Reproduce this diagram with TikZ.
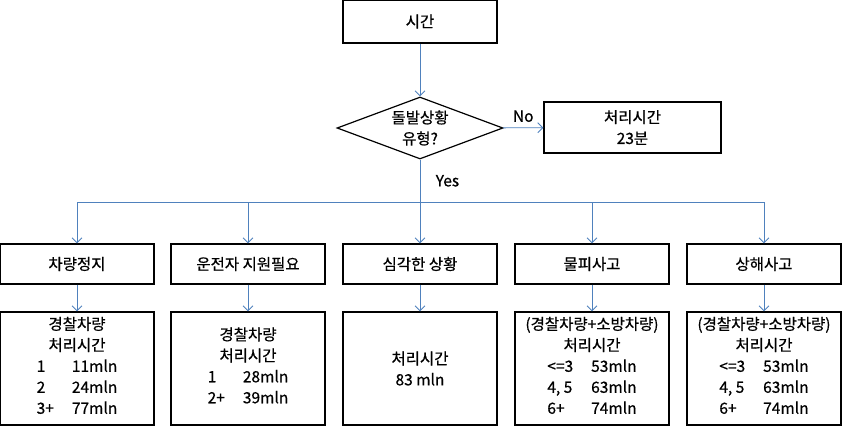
\documentclass[tikz,border=0pt]{standalone}
\usepackage{fontspec}
\setmainfont{Noto Sans CJK KR}[FakeBold=0.6]
\usetikzlibrary{shapes.geometric,arrows.meta}
\definecolor{linkblue}{RGB}{79,129,189}
\newcommand{\timerows}[1]{\begin{tabular}[t]{@{}l@{\hspace{18pt}}l@{}}#1\end{tabular}}

\begin{document}
\begin{tikzpicture}[x=1pt,y=-1pt,font=\fontsize{15.5}{21}\selectfont,
		box/.style={draw,line width=1.2pt,minimum width=154pt,align=center,inner sep=0pt},
		head/.style={box,minimum height=40pt},
		result/.style={box,minimum height=113pt},
		decision/.style={draw,line width=1.2pt,diamond,aspect=2.68,minimum width=166pt,minimum height=62pt,inner sep=0pt},
		link/.style={draw=linkblue,line width=0.9pt},
		arr/.style={link,-{Straight Barb[length=5pt,width=10pt]}}]
	\useasboundingbox (0,0) rectangle (847,431);
	\node[box,minimum height=43pt] (start) at (420,21.5) {시간};
	\node[decision,label={[align=center]center:돌발상황\\유형?}] (type) at (420,128) {};
	\node[box,minimum width=177pt,minimum height=51pt] (none) at (632.5,127.5) {처리시간\\23분};
	\coordinate (bus) at (420,202);
	\node[head] (c1) at (77,264) {차량정지};
	\node[head] (c2) at (248,264) {운전자 지원필요};
	\node[head] (c3) at (420,264) {심각한 상황};
	\node[head] (c4) at (592,264) {물피사고};
	\node[head] (c5) at (764,264) {상해사고};
	\node[result] (d1) at (77,368.5) {경찰차량\\처리시간\\\timerows{1&11mln\\2&24mln\\3+&77mln}};
	\node[result] (d2) at (248,368.5) {경찰차량\\처리시간\\\timerows{1&28mln\\2+&39mln}};
	\node[result] (d3) at (420,368.5) {처리시간\\83 mln};
	\node[result] (d4) at (592,368.5) {(경찰차량+소방차량)\\처리시간\\\timerows{<=3&53mln\\4, 5&63mln\\6+&74mln}};
	\node[result] (d5) at (764,368.5) {(경찰차량+소방차량)\\처리시간\\\timerows{<=3&53mln\\4, 5&63mln\\6+&74mln}};
	\draw[arr] (start) -- (type);
	\draw[arr] (type) -- node[above=2pt] {No} (none);
	\draw[link] (type.south) -- node[right=12pt] {Yes} (bus);
	\foreach \i in {1,...,5} {
		\draw[arr] (bus) -| (c\i);
		\draw[arr] (c\i) -- (d\i);
	}
\end{tikzpicture}
\end{document}
